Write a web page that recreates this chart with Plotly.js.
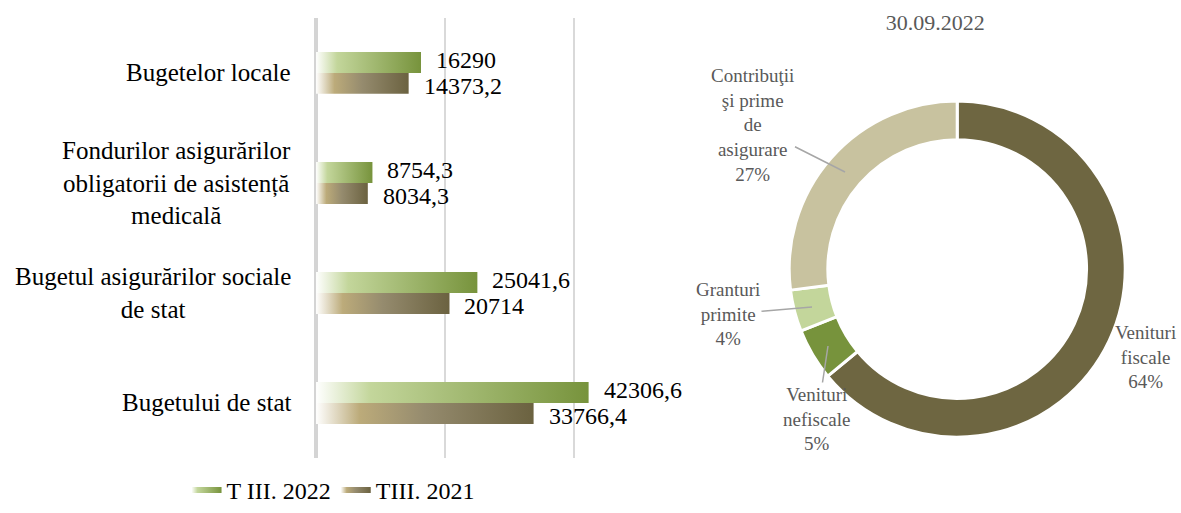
<!DOCTYPE html>
<html><head><meta charset="utf-8">
<script src="https://cdn.plot.ly/plotly-3.0.1.min.js"></script>
<style>html,body{margin:0;padding:0;background:#fff;}</style>
</head><body>
<div id="chart" style="width:1181px;height:513px;"></div>
<script>
// ---- data ----
const categories = [
  'Bugetelor locale',
  'Fondurilor asigurărilor<br>obligatorii de asistență<br>medicală',
  'Bugetul asigurărilor sociale<br>de stat',
  'Bugetului de stat'
];
const seriesNames = ['T III. 2022', 'TIII. 2021'];
const values2022 = [16290, 8754.3, 25041.6, 42306.6];
const values2021 = [14373.2, 8034.3, 20714, 33766.4];

const donutTitle = '30.09.2022';
const donutLabels = ['Venituri<br>fiscale', 'Venituri<br>nefiscale', 'Granturi<br>primite', 'Contribuţii<br>şi prime<br>de<br>asigurare'];
const donutValues = [64, 5, 4, 27];

// ---- styles ----
const W = 1181, H = 513;
const FONT = 'Liberation Serif, Times New Roman, serif';
const half = 0.19;
const scales = [
  [[0, '#ffffff'], [0.2, '#c3d69b'], [1, '#77933c']],
  [[0, '#ffffff'], [0.2, '#bcab7a'], [0.5, '#958b6e'], [1, '#6b6240']]
];
const donutColors = ['#6e6641', '#77933c', '#c3d69b', '#c8c29f'];
// label placement for the donut (pixel positions of text centre and leader-line tip)
const donutLabelPos = [
  {cx: 1145, cy: 357, tip: null},
  {cx: 817, cy: 419, tip: [828, 346]},
  {cx: 728, cy: 314, tip: [812, 307]},
  {cx: 752, cy: 125, tip: [845, 172]}
];

const series = [values2022, values2021];
const traces = [];
const annotations = [];

series.forEach((vals, s) => {
  vals.forEach((v, i) => {
    const y0 = s === 0 ? i - half : i;
    const y1 = y0 + half;
    traces.push({
      type: 'scatter', mode: 'none',
      x: [0, v, v, 0, 0], y: [y0, y0, y1, y1, y0],
      fill: 'toself',
      fillgradient: {type: 'horizontal', colorscale: scales[s], start: 0, stop: v},
      name: seriesNames[s], legendgroup: 's' + s, showlegend: i === 0,
      hoverinfo: 'name+x', xaxis: 'x', yaxis: 'y'
    });
    annotations.push({
      x: v, y: (y0 + y1) / 2, xref: 'x', yref: 'y',
      text: String(v).replace('.', ','), showarrow: false,
      xanchor: 'left', yanchor: 'middle', xshift: 13, yshift: s === 0 ? 3 : -3,
      font: {family: FONT, size: 24, color: '#000'}
    });
  });
});

categories.forEach((c, i) => {
  annotations.push({
    x: 0.248, xref: 'paper', y: i, yref: 'y', text: c, showarrow: false,
    xanchor: 'right', yanchor: 'middle', align: 'center',
    font: {family: FONT, size: 25, color: '#000'}
  });
});

const total = donutValues.reduce((a, b) => a + b, 0);
donutLabels.forEach((lab, i) => {
  const p = donutLabelPos[i];
  const txt = lab + '<br>' + Math.round(100 * donutValues[i] / total) + '%';
  const base = {
    xref: 'paper', yref: 'paper', text: txt, align: 'center',
    font: {family: FONT, size: 19, color: '#595959'}
  };
  if (p.tip) {
    annotations.push(Object.assign(base, {
      x: p.tip[0] / W, y: 1 - p.tip[1] / H, showarrow: true, arrowhead: 0,
      arrowwidth: 1.5, arrowcolor: '#a6a6a6', standoff: 0,
      ax: p.cx - p.tip[0], ay: p.cy - p.tip[1]
    }));
  } else {
    annotations.push(Object.assign(base, {
      x: p.cx / W, y: 1 - p.cy / H, showarrow: false, xanchor: 'center', yanchor: 'middle'
    }));
  }
});

traces.push({
  type: 'pie', labels: donutLabels, values: donutValues, hole: 0.77,
  sort: false, direction: 'clockwise', rotation: 0,
  marker: {colors: donutColors, line: {color: '#ffffff', width: 3}},
  textinfo: 'none',
  domain: {x: [0.668, 0.953], y: [0.148, 0.803]},
  showlegend: false, hoverinfo: 'label+percent'
});

const layout = {
  width: W, height: H,
  margin: {l: 0, r: 0, t: 0, b: 0, autoexpand: false},
  paper_bgcolor: '#ffffff', plot_bgcolor: 'rgba(0,0,0,0)',
  font: {family: FONT, color: '#000'},
  title: {text: donutTitle, x: 0.792, xanchor: 'center', y: 0.957, yanchor: 'middle',
          font: {family: FONT, size: 22, color: '#595959'}},
  xaxis: {domain: [0.2676, 0.5131], range: [0, 45000], dtick: 20000, tick0: 0,
          showgrid: true, gridcolor: '#d9d9d9', gridwidth: 2,
          zeroline: true, zerolinecolor: '#d4d4d4', zerolinewidth: 4,
          showticklabels: false, showline: false, ticks: '', fixedrange: true},
  yaxis: {domain: [0.1072, 0.965], range: [3.5, -0.5], showgrid: false,
          zeroline: false, showticklabels: false, showline: false, ticks: '', fixedrange: true},
  showlegend: true,
  legend: {orientation: 'h', x: 0.282, xanchor: 'center', y: 0, yanchor: 'bottom',
           font: {family: FONT, size: 24, color: '#000'}, itemwidth: 30, traceorder: 'normal'},
  annotations: annotations
};

Plotly.newPlot('chart', traces, layout, {displayModeBar: false, staticPlot: true});
</script>
</body></html>
